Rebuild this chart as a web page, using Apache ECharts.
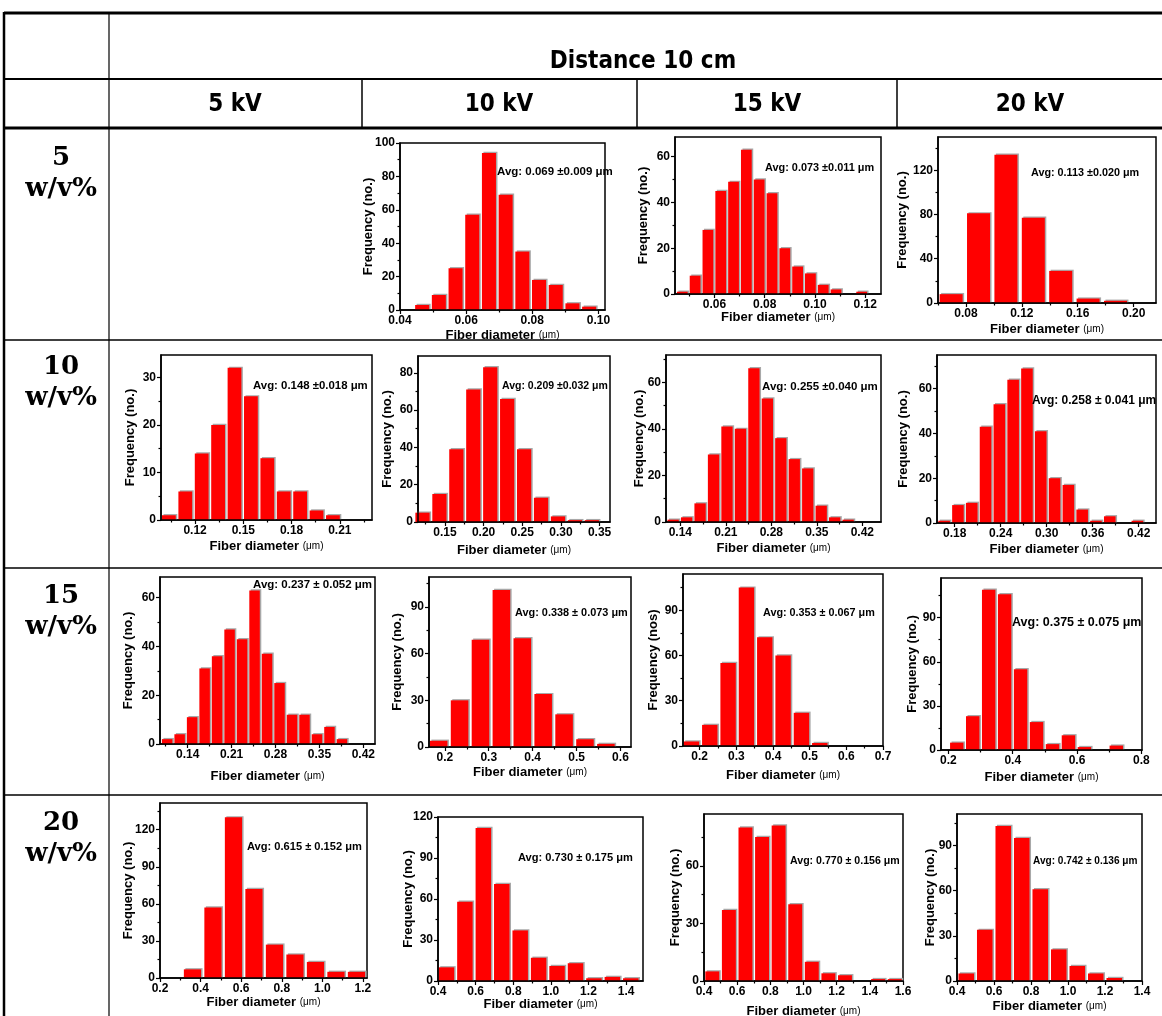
<!DOCTYPE html>
<html>
<head>
<meta charset="utf-8">
<script src="https://cdn.jsdelivr.net/npm/echarts@6/dist/echarts.min.js"></script>
<style>
  html, body { margin: 0; padding: 0; background: #fff; }
  #c { width: 1162px; height: 1016px; }
</style>
</head>
<body>
<div id="c"></div>
<script>
// Fibre-diameter histograms for electrospun mats, tip-to-collector distance 10 cm.
// Rows: polymer concentration (w/v%); columns: applied voltage.
const concentrations = ['5', '10', '15', '20'];
const voltages = ['5 kV', '10 kV', '15 kV', '20 kV'];
const headerTitle = 'Distance 10 cm';

// Each histogram: counts per bin, [first bin centre, bin width] (μm),
// x range and tick values (μm), y maximum and tick values, mean ± SD label.

// 5 w/v%
const freq_5wv_10kV = [3, 9, 25, 57, 94, 69, 35, 18, 15, 4, 2];
const bins_5wv_10kV = [0.0467, 0.00505];
const xRange_5wv_10kV = [0.04, 0.102];
const xTicks_5wv_10kV = [0.04, 0.06, 0.08, 0.10];
const yMax_5wv_10kV = 100;
const yTicks_5wv_10kV = [0, 20, 40, 60, 80, 100];
const avg_5wv_10kV = 'Avg: 0.069 ±0.009 μm';

const freq_5wv_15kV = [1, 8, 28, 45, 49, 63, 50, 44, 20, 12, 9, 4, 2, 0, 1];
const bins_5wv_15kV = [0.0472, 0.0051];
const xRange_5wv_15kV = [0.0443, 0.1263];
const xTicks_5wv_15kV = [0.06, 0.08, 0.10, 0.12];
const yMax_5wv_15kV = 68.6;
const yTicks_5wv_15kV = [0, 20, 40, 60];
const avg_5wv_15kV = 'Avg: 0.073 ±0.011 μm';

const freq_5wv_20kV = [8, 81, 134, 77, 29, 4, 2];
const bins_5wv_20kV = [0.0694, 0.0196];
const xRange_5wv_20kV = [0.06, 0.216];
const xTicks_5wv_20kV = [0.08, 0.12, 0.16, 0.20];
const yMax_5wv_20kV = 150;
const yTicks_5wv_20kV = [0, 40, 80, 120];
const avg_5wv_20kV = 'Avg: 0.113 ±0.020 μm';

// 10 w/v%
const freq_10wv_5kV = [1, 6, 14, 20, 32, 26, 13, 6, 6, 2, 1];
const bins_10wv_5kV = [0.1037, 0.0102];
const xRange_10wv_5kV = [0.0988, 0.230];
const xTicks_10wv_5kV = [0.12, 0.15, 0.18, 0.21];
const yMax_10wv_5kV = 34.7;
const yTicks_10wv_5kV = [0, 10, 20, 30];
const avg_10wv_5kV = 'Avg: 0.148 ±0.018 μm';

const freq_10wv_10kV = [5, 15, 39, 71, 83, 66, 39, 13, 3, 1, 1];
const bins_10wv_10kV = [0.121, 0.0219];
const xRange_10wv_10kV = [0.1152, 0.3635];
const xTicks_10wv_10kV = [0.15, 0.20, 0.25, 0.30, 0.35];
const yMax_10wv_10kV = 89;
const yTicks_10wv_10kV = [0, 20, 40, 60, 80];
const avg_10wv_10kV = 'Avg: 0.209 ±0.032 μm';

const freq_10wv_15kV = [1, 2, 8, 29, 41, 40, 66, 53, 36, 27, 23, 7, 2, 1];
const bins_10wv_15kV = [0.129, 0.0207];
const xRange_10wv_15kV = [0.118, 0.4487];
const xTicks_10wv_15kV = [0.14, 0.21, 0.28, 0.35, 0.42];
const yMax_10wv_15kV = 71.7;
const yTicks_10wv_15kV = [0, 20, 40, 60];
const avg_10wv_15kV = 'Avg: 0.255 ±0.040 μm';

const freq_10wv_20kV = [1, 8, 9, 43, 53, 64, 69, 41, 20, 17, 6, 1, 3, 0, 1];
const bins_10wv_20kV = [0.1663, 0.018];
const xRange_10wv_20kV = [0.157, 0.4426];
const xTicks_10wv_20kV = [0.18, 0.24, 0.30, 0.36, 0.42];
const yMax_10wv_20kV = 75;
const yTicks_10wv_20kV = [0, 20, 40, 60];
const avg_10wv_20kV = 'Avg: 0.258 ± 0.041 μm';

// 15 w/v%
const freq_15wv_5kV = [2, 4, 11, 31, 36, 47, 43, 63, 37, 25, 12, 12, 4, 7, 2];
const bins_15wv_5kV = [0.1073, 0.0199];
const xRange_15wv_5kV = [0.0959, 0.4386];
const xTicks_15wv_5kV = [0.14, 0.21, 0.28, 0.35, 0.42];
const yMax_15wv_5kV = 68.5;
const yTicks_15wv_5kV = [0, 20, 40, 60];
const avg_15wv_5kV = 'Avg: 0.237 ± 0.052 μm';

const freq_15wv_10kV = [4, 30, 69, 101, 70, 34, 21, 5, 2];
const bins_15wv_10kV = [0.186, 0.0476];
const xRange_15wv_10kV = [0.164, 0.624];
const xTicks_15wv_10kV = [0.2, 0.3, 0.4, 0.5, 0.6];
const yMax_15wv_10kV = 109.3;
const yTicks_15wv_10kV = [0, 30, 60, 90];
const avg_15wv_10kV = 'Avg: 0.338 ± 0.073 μm';

const freq_15wv_15kV = [3, 14, 55, 105, 72, 60, 22, 2];
const bins_15wv_15kV = [0.1775, 0.05];
const xRange_15wv_15kV = [0.1545, 0.7];
const xTicks_15wv_15kV = [0.2, 0.3, 0.4, 0.5, 0.6, 0.7];
const yMax_15wv_15kV = 114;
const yTicks_15wv_15kV = [0, 30, 60, 90];
const avg_15wv_15kV = 'Avg: 0.353 ± 0.067 μm';

const freq_15wv_20kV = [5, 23, 109, 106, 55, 19, 4, 10, 2, 0, 3];
const bins_15wv_20kV = [0.226, 0.0496];
const xRange_15wv_20kV = [0.177, 0.802];
const xTicks_15wv_20kV = [0.2, 0.4, 0.6, 0.8];
const yMax_15wv_20kV = 117;
const yTicks_15wv_20kV = [0, 30, 60, 90];
const avg_15wv_20kV = 'Avg: 0.375 ± 0.075 μm';

// 20 w/v%
const freq_20wv_5kV = [7, 57, 130, 72, 27, 19, 13, 5, 5];
const bins_20wv_5kV = [0.36, 0.101];
const xRange_20wv_5kV = [0.2, 1.22];
const xTicks_20wv_5kV = [0.2, 0.4, 0.6, 0.8, 1.0, 1.2];
const yMax_20wv_5kV = 141.6;
const yTicks_20wv_5kV = [0, 30, 60, 90, 120];
const avg_20wv_5kV = 'Avg: 0.615 ± 0.152 μm';

const freq_20wv_10kV = [10, 58, 112, 71, 37, 17, 11, 13, 2, 3, 2];
const bins_20wv_10kV = [0.445, 0.098];
const xRange_20wv_10kV = [0.4, 1.49];
const xTicks_20wv_10kV = [0.4, 0.6, 0.8, 1.0, 1.2, 1.4];
const yMax_20wv_10kV = 120;
const yTicks_20wv_10kV = [0, 30, 60, 90, 120];
const avg_20wv_10kV = 'Avg: 0.730 ± 0.175 μm';

const freq_20wv_15kV = [5, 37, 80, 75, 81, 40, 10, 4, 3, 0, 1, 1];
const bins_20wv_15kV = [0.45, 0.1];
const xRange_20wv_15kV = [0.4, 1.6];
const xTicks_20wv_15kV = [0.4, 0.6, 0.8, 1.0, 1.2, 1.4, 1.6];
const yMax_20wv_15kV = 87;
const yTicks_20wv_15kV = [0, 30, 60];
const avg_20wv_15kV = 'Avg: 0.770 ± 0.156 μm';

const freq_20wv_20kV = [5, 34, 103, 95, 61, 21, 10, 5, 2];
const bins_20wv_20kV = [0.45, 0.1];
const xRange_20wv_20kV = [0.4, 1.4];
const xTicks_20wv_20kV = [0.4, 0.6, 0.8, 1.0, 1.2, 1.4];
const yMax_20wv_20kV = 111;
const yTicks_20wv_20kV = [0, 30, 60, 90];
const avg_20wv_20kV = 'Avg: 0.742 ± 0.136 μm';

// ---- layout of the panels on the page (plot box: left, top, right, bottom) ----
const FREQ = 'Frequency (no.)';
const panels = [
  { freq: freq_5wv_10kV, bins: bins_5wv_10kV, xRange: xRange_5wv_10kV, xTicks: xTicks_5wv_10kV, yMax: yMax_5wv_10kV, yTicks: yTicks_5wv_10kV, avg: avg_5wv_10kV, dec: 2, yName: FREQ,
    box: [400, 143, 605, 310], avgAt: [497, 172], avgSize: 11.5, yNameOff: 32, xNameOff: 27 },
  { freq: freq_5wv_15kV, bins: bins_5wv_15kV, xRange: xRange_5wv_15kV, xTicks: xTicks_5wv_15kV, yMax: yMax_5wv_15kV, yTicks: yTicks_5wv_15kV, avg: avg_5wv_15kV, dec: 2, yName: FREQ,
    box: [675, 137, 881, 294], avgAt: [765, 168], avgSize: 10.9, yNameOff: 32, xNameOff: 25 },
  { freq: freq_5wv_20kV, bins: bins_5wv_20kV, xRange: xRange_5wv_20kV, xTicks: xTicks_5wv_20kV, yMax: yMax_5wv_20kV, yTicks: yTicks_5wv_20kV, avg: avg_5wv_20kV, dec: 2, yName: FREQ,
    box: [938, 137, 1156, 303], avgAt: [1031, 173], avgSize: 10.8, yNameOff: 36, xNameOff: 28 },

  { freq: freq_10wv_5kV, bins: bins_10wv_5kV, xRange: xRange_10wv_5kV, xTicks: xTicks_10wv_5kV, yMax: yMax_10wv_5kV, yTicks: yTicks_10wv_5kV, avg: avg_10wv_5kV, dec: 2, yName: FREQ,
    box: [161, 355, 372, 520], avgAt: [253, 386], avgSize: 11.4, yNameOff: 31, xNameOff: 28 },
  { freq: freq_10wv_10kV, bins: bins_10wv_10kV, xRange: xRange_10wv_10kV, xTicks: xTicks_10wv_10kV, yMax: yMax_10wv_10kV, yTicks: yTicks_10wv_10kV, avg: avg_10wv_10kV, dec: 2, yName: FREQ,
    box: [418, 356, 610, 522], avgAt: [502, 386], avgSize: 10.5, yNameOff: 31, xNameOff: 30 },
  { freq: freq_10wv_15kV, bins: bins_10wv_15kV, xRange: xRange_10wv_15kV, xTicks: xTicks_10wv_15kV, yMax: yMax_10wv_15kV, yTicks: yTicks_10wv_15kV, avg: avg_10wv_15kV, dec: 2, yName: FREQ,
    box: [666, 355, 881, 522], avgAt: [762, 387], avgSize: 11.5, yNameOff: 27, xNameOff: 28 },
  { freq: freq_10wv_20kV, bins: bins_10wv_20kV, xRange: xRange_10wv_20kV, xTicks: xTicks_10wv_20kV, yMax: yMax_10wv_20kV, yTicks: yTicks_10wv_20kV, avg: avg_10wv_20kV, dec: 2, yName: FREQ,
    box: [937, 355, 1156, 523], avgAt: [1032, 401], avgSize: 12, yNameOff: 34, xNameOff: 28 },

  { freq: freq_15wv_5kV, bins: bins_15wv_5kV, xRange: xRange_15wv_5kV, xTicks: xTicks_15wv_5kV, yMax: yMax_15wv_5kV, yTicks: yTicks_15wv_5kV, avg: avg_15wv_5kV, dec: 2, yName: FREQ,
    box: [160, 577, 375, 744], avgAt: [253, 585], avgSize: 11.5, yNameOff: 32, xNameOff: 34 },
  { freq: freq_15wv_10kV, bins: bins_15wv_10kV, xRange: xRange_15wv_10kV, xTicks: xTicks_15wv_10kV, yMax: yMax_15wv_10kV, yTicks: yTicks_15wv_10kV, avg: avg_15wv_10kV, dec: 1, yName: FREQ,
    box: [429, 577, 631, 747], avgAt: [515, 613], avgSize: 10.9, yNameOff: 32, xNameOff: 27 },
  { freq: freq_15wv_15kV, bins: bins_15wv_15kV, xRange: xRange_15wv_15kV, xTicks: xTicks_15wv_15kV, yMax: yMax_15wv_15kV, yTicks: yTicks_15wv_15kV, avg: avg_15wv_15kV, dec: 1, yName: 'Frequency (nos)',
    box: [683, 574, 883, 746], avgAt: [763, 613], avgSize: 10.8, yNameOff: 30, xNameOff: 31 },
  { freq: freq_15wv_20kV, bins: bins_15wv_20kV, xRange: xRange_15wv_20kV, xTicks: xTicks_15wv_20kV, yMax: yMax_15wv_20kV, yTicks: yTicks_15wv_20kV, avg: avg_15wv_20kV, dec: 1, yName: FREQ,
    box: [941, 578, 1142, 750], avgAt: [1012, 623], avgSize: 12.5, yNameOff: 29, xNameOff: 29 },

  { freq: freq_20wv_5kV, bins: bins_20wv_5kV, xRange: xRange_20wv_5kV, xTicks: xTicks_20wv_5kV, yMax: yMax_20wv_5kV, yTicks: yTicks_20wv_5kV, avg: avg_20wv_5kV, dec: 1, yName: FREQ,
    box: [160, 803, 367, 978], avgAt: [247, 847], avgSize: 11.1, yNameOff: 32, xNameOff: 26 },
  { freq: freq_20wv_10kV, bins: bins_20wv_10kV, xRange: xRange_20wv_10kV, xTicks: xTicks_20wv_10kV, yMax: yMax_20wv_10kV, yTicks: yTicks_20wv_10kV, avg: avg_20wv_10kV, dec: 1, yName: FREQ,
    box: [438, 817, 643, 981], avgAt: [518, 858], avgSize: 11.1, yNameOff: 30, xNameOff: 25 },
  { freq: freq_20wv_15kV, bins: bins_20wv_15kV, xRange: xRange_20wv_15kV, xTicks: xTicks_20wv_15kV, yMax: yMax_20wv_15kV, yTicks: yTicks_20wv_15kV, avg: avg_20wv_15kV, dec: 1, yName: FREQ,
    box: [704, 814, 903, 981], avgAt: [790, 861], avgSize: 10.6, yNameOff: 29, xNameOff: 32 },
  { freq: freq_20wv_20kV, bins: bins_20wv_20kV, xRange: xRange_20wv_20kV, xTicks: xTicks_20wv_20kV, yMax: yMax_20wv_20kV, yTicks: yTicks_20wv_20kV, avg: avg_20wv_20kV, dec: 1, yName: FREQ,
    box: [957, 814, 1142, 981], avgAt: [1033, 861], avgSize: 10.1, yNameOff: 27, xNameOff: 27 }
];

const SANS = '"Liberation Sans", Arial, sans-serif';
const BAR_RED = '#ff0000';
const BAR_EDGE = '#a8a8a8';
const BAR_FILL = 0.84;   // share of the bin occupied by a bar

// minor ticks halfway between majors, extended over the whole axis range
function minorTicks(major, lo, hi) {
  const step = major[1] - major[0];
  const out = [];
  for (let t = major[0] - step / 2; t <= hi + 1e-9; t += step) {
    if (t >= lo - 1e-9) out.push(+t.toFixed(6));
  }
  return out;
}

function renderBar(params, api) {
  const c = api.value(0), v = api.value(1), w = api.value(2);
  if (!(v > 0)) return { type: 'group', children: [] };
  const half = w * BAR_FILL / 2;
  const p0 = api.coord([c - half, 0]);
  const p1 = api.coord([c + half, v]);
  const x = p0[0], y = p1[1], wd = p1[0] - p0[0], h = p0[1] - p1[1];
  return {
    type: 'group',
    children: [
      { type: 'rect', shape: { x: x + 1.5, y: y - 1.2, width: wd, height: h + 1.2 }, style: { fill: BAR_EDGE } },
      { type: 'rect', shape: { x: x, y: y, width: wd, height: h }, style: { fill: BAR_RED } }
    ]
  };
}

const grids = [], xAxes = [], yAxes = [], series = [], graphics = [];
const axisLineStyle = { color: '#000', width: 1.5 };
const tickStyle = { color: '#000', width: 1.2 };
const labelStyle = { color: '#000', fontWeight: 'bold', fontSize: 12, fontFamily: SANS };

panels.forEach((p, i) => {
  const [l, t, r, b] = p.box;
  grids.push({
    left: l, top: t, width: r - l, height: b - t,
    show: true, borderColor: '#000', borderWidth: 1.5, backgroundColor: 'rgba(0,0,0,0)',
    containLabel: false, outerBoundsMode: 'none'
  });
  const [xmin, xmax] = p.xRange;
  // major x axis with labels and name
  xAxes.push({
    gridIndex: i, type: 'value', min: xmin, max: xmax, position: 'bottom', z: 3,
    axisLine: { show: true, onZero: false, lineStyle: axisLineStyle },
    axisTick: { show: true, inside: false, length: 4, lineStyle: tickStyle, customValues: p.xTicks },
    axisLabel: Object.assign({ customValues: p.xTicks, margin: 5, formatter: v => v.toFixed(p.dec) }, labelStyle),
    splitLine: { show: false },
    name: '{b|Fiber diameter }{u|(μm)}', nameLocation: 'middle', nameGap: p.xNameOff - 8,
    nameMoveOverlap: false,
    nameTextStyle: { rich: {
      b: { fontWeight: 'bold', fontSize: 13, fontFamily: SANS, color: '#000' },
      u: { fontSize: 10, fontFamily: SANS, color: '#000' }
    } }
  });
  // minor x ticks
  xAxes.push({
    gridIndex: i, type: 'value', min: xmin, max: xmax, position: 'bottom', z: 3,
    axisLine: { show: false, onZero: false },
    axisTick: { show: true, inside: false, length: 2.5, lineStyle: tickStyle, customValues: minorTicks(p.xTicks, xmin, xmax) },
    axisLabel: { show: false }, splitLine: { show: false }
  });
  yAxes.push({
    gridIndex: i, type: 'value', min: 0, max: p.yMax, position: 'left', z: 3,
    axisLine: { show: true, onZero: false, lineStyle: axisLineStyle },
    axisTick: { show: true, inside: false, length: 4, lineStyle: tickStyle, customValues: p.yTicks },
    axisLabel: Object.assign({ customValues: p.yTicks, margin: 5 }, labelStyle),
    splitLine: { show: false },
    name: p.yName, nameLocation: 'middle', nameGap: p.yNameOff - 7, nameMoveOverlap: false,
    nameTextStyle: { fontWeight: 'bold', fontSize: 13, fontFamily: SANS, color: '#000' }
  });
  yAxes.push({
    gridIndex: i, type: 'value', min: 0, max: p.yMax, position: 'left', z: 3,
    axisLine: { show: false, onZero: false },
    axisTick: { show: true, inside: false, length: 2.5, lineStyle: tickStyle, customValues: minorTicks(p.yTicks, 0, p.yMax) },
    axisLabel: { show: false }, splitLine: { show: false }
  });
  const [c0, w] = p.bins;
  series.push({
    type: 'custom', coordinateSystem: 'cartesian2d',
    xAxisIndex: 2 * i, yAxisIndex: 2 * i,
    renderItem: renderBar,
    dimensions: ['diameter', 'count', 'width'],
    encode: { x: 0, y: 1 },
    data: p.freq.map((n, k) => [c0 + k * w, n, w]),
    silent: true, z: 2
  });
  graphics.push({
    type: 'text', x: p.avgAt[0], y: p.avgAt[1], z: 10,
    style: { text: p.avg, fill: '#000', fontSize: p.avgSize, fontWeight: 'bold', fontFamily: SANS, align: 'left', verticalAlign: 'middle' }
  });
});

// ---- table frame ----
const rules = [
  [4, 13, 1162, 13, 3],
  [4, 79, 1162, 79, 2],
  [4, 128, 1162, 128, 3],
  [4, 340, 1162, 340, 1.5],
  [4, 568, 1162, 568, 1.5],
  [4, 795, 1162, 795, 1.5],
  [4, 12, 4, 1016, 2.5],
  [109, 13, 109, 1016, 1.2],
  [362, 79, 362, 128, 1.5],
  [637, 79, 637, 128, 1.5],
  [897, 79, 897, 128, 1.5]
];
rules.forEach(([x1, y1, x2, y2, lw]) => {
  graphics.push({ type: 'line', z: 20, shape: { x1, y1, x2, y2 }, style: { stroke: '#000', lineWidth: lw } });
});

const HEAD_FONT = '"Liberation Sans Narrow", "DejaVu Sans Condensed", "Liberation Sans", sans-serif';
graphics.push({
  type: 'text', x: 643, y: 62, z: 20,
  style: { text: headerTitle, fill: '#000', fontSize: 24, fontWeight: 'bold', fontFamily: HEAD_FONT, align: 'center', verticalAlign: 'middle' }
});
const voltageCentres = [235, 499, 767, 1030];
voltages.forEach((v, k) => {
  graphics.push({
    type: 'text', x: voltageCentres[k], y: 105, z: 20,
    style: { text: v, fill: '#000', fontSize: 24, fontWeight: 'bold', fontFamily: HEAD_FONT, align: 'center', verticalAlign: 'middle' }
  });
});
const ROW_FONT = '"DejaVu Serif", "Liberation Serif", serif';
const rowTops = [158, 367, 596, 823];
concentrations.forEach((c, k) => {
  graphics.push({
    type: 'text', x: 61, y: rowTops[k], z: 20,
    style: { text: c, fill: '#000', fontSize: 26, fontWeight: 'bold', fontFamily: ROW_FONT, align: 'center', verticalAlign: 'middle' }
  });
  graphics.push({
    type: 'text', x: 61, y: rowTops[k] + 31, z: 20,
    style: { text: 'w/v%', fill: '#000', fontSize: 26, fontWeight: 'bold', fontFamily: ROW_FONT, align: 'center', verticalAlign: 'middle' }
  });
});

const chart = echarts.init(document.getElementById('c'), null, { renderer: 'canvas' });
chart.setOption({
  animation: false,
  backgroundColor: '#fff',
  grid: grids,
  xAxis: xAxes,
  yAxis: yAxes,
  series: series,
  graphic: graphics
});
</script>
</body>
</html>
